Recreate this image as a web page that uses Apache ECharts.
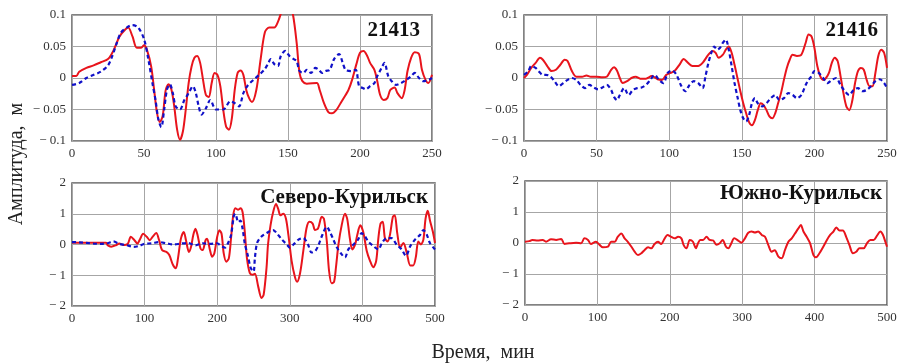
<!DOCTYPE html>
<html>
<head>
<meta charset="utf-8">
<script src="https://cdn.jsdelivr.net/npm/echarts@6/dist/echarts.min.js"></script>
<style>
html, body { margin: 0; padding: 0; background: #fff; }
#main { width: 898px; height: 363px; }
</style>
</head>
<body>
<div id="main"></div>
<script>
// [время, амплитуда]
const red21413 = [[0,0.003],[3,0.003],[5,0.01],[10,0.016],[15,0.02],[20,0.025],[25,0.03],[28,0.04],[30,0.05],[33,0.066],[37,0.077],[39,0.08],[42,0.066],[45,0.048],[48,0.048],[50,0.052],[52,0.045],[55,0.018],[57,-0.018],[59,-0.055],[61,-0.07],[63,-0.06],[65,-0.02],[67,-0.01],[69,-0.018],[71,-0.045],[73,-0.082],[75,-0.098],[77,-0.085],[79,-0.05],[81,-0.008],[83,0.018],[85,0.032],[87,0.035],[89,0.024],[91,-0.003],[93,-0.027],[95,-0.03],[97,-0.008],[99,0.008],[101,0.005],[103,-0.013],[105,-0.05],[107,-0.077],[109,-0.082],[111,-0.064],[113,-0.019],[115,0.008],[117,0.012],[119,0.005],[121,-0.019],[123,-0.032],[125,-0.038],[128,-0.019],[131,0.03],[134,0.073],[137,0.08],[140.5,0.08],[143,0.089],[145,0.102],[147,0.118],[149,0.125],[151,0.118],[153.5,0.1],[156,0.056],[158,0.008],[160,-0.005],[163,-0.009],[170,-0.008],[172,-0.019],[175,-0.04],[178,-0.054],[180.5,-0.056],[183.5,-0.051],[186.5,-0.04],[190,-0.027],[192,-0.019],[194.5,-0.003],[197.5,0.022],[200,0.04],[202.5,0.043],[205,0.035],[207,0.024],[210,0.013],[212,-0.005],[214,-0.027],[216.5,-0.035],[219,-0.032],[221,-0.019],[224,-0.015],[226,-0.024],[229,-0.032],[231,-0.019],[233,0.011],[235.5,0.032],[238,0.041],[241,0.038],[243,0.013],[245.5,-0.003],[247.5,-0.008],[250,0.005]];
const blue21413 = [[0,-0.011],[5,-0.008],[10,0],[15,0.005],[20,0.01],[25,0.02],[28,0.035],[31,0.055],[34,0.072],[38,0.08],[42,0.084],[46,0.08],[50,0.062],[53,0.03],[56,-0.01],[58,-0.035],[60,-0.066],[62,-0.078],[64,-0.05],[66,-0.018],[68,-0.01],[70,-0.024],[72,-0.045],[75,-0.05],[78,-0.035],[81,-0.024],[84,-0.013],[86,-0.024],[88,-0.045],[90,-0.058],[93,-0.048],[96,-0.035],[100,-0.05],[105,-0.05],[110,-0.037],[113,-0.04],[116,-0.045],[119,-0.024],[122,-0.012],[126,-0.003],[130,0.005],[133.5,0.013],[136,0.022],[138,0.03],[140.5,0.022],[143,0.019],[145,0.035],[148,0.043],[151,0.035],[154,0.03],[156,0.027],[158,0.011],[160.7,0.008],[163,0.013],[166,0.008],[169,0.016],[171.4,0.013],[173.7,0.008],[176,0.011],[179,0.013],[182,0.03],[185.5,0.038],[188,0.024],[190,0.013],[193.7,0.011],[197,0.013],[199.4,-0.013],[202,-0.016],[204,-0.018],[207,-0.013],[210,-0.008],[212,0.003],[215,0.016],[217,0.024],[219.6,0.003],[222,-0.005],[225,-0.011],[228.5,-0.008],[232,-0.003],[235.6,0.003],[238,0.008],[241,0],[244,-0.005],[247.5,-0.003],[250,0]];

const red21416 = [[0,0],[2,0.005],[5,0.016],[8,0.024],[11,0.032],[13,0.029],[16,0.019],[19,0.011],[22,0.013],[25,0.021],[28,0.029],[30,0.027],[33,0.011],[36,0.002],[40,0.002],[43,0.004],[46,0.002],[50,0.002],[54,0.001],[57,0.002],[60,0.013],[62,0.017],[64,0.012],[66,0],[68,-0.008],[71,-0.005],[74,0],[77,0.002],[80,-0.001],[84,-0.001],[88,0.003],[92,-0.002],[95,-0.003],[98,0.005],[101,0.008],[104,0.012],[107,0.021],[110,0.03],[113,0.024],[116,0.019],[120,0.019],[123,0.024],[127,0.037],[130,0.043],[132,0.04],[134,0.032],[137,0.037],[139,0.045],[141,0.05],[143,0.04],[145,0.021],[147,0],[149,-0.021],[151,-0.04],[153,-0.056],[155,-0.07],[157,-0.075],[159,-0.067],[161,-0.051],[163,-0.04],[165,-0.043],[167,-0.051],[169,-0.061],[171,-0.064],[173,-0.056],[175,-0.04],[177,-0.024],[179,-0.003],[181,0.016],[183,0.029],[185,0.037],[188,0.035],[191,0.037],[194,0.056],[196,0.069],[198,0.066],[200,0.048],[202,0.019],[204,0.003],[206,-0.003],[208,0],[210,0.008],[212,0.024],[214,0.032],[216,0.027],[218,0.003],[220,-0.024],[222,-0.045],[224,-0.051],[226,-0.037],[228,-0.008],[230,0.011],[232,0.016],[234,0.013],[236,-0.003],[238,-0.013],[240,-0.013],[242,0.008],[244,0.035],[246,0.045],[248,0.04],[250,0.016]];
const blue21416 = [[0,0.005],[3,0.011],[5,0.019],[8,0.016],[10,0.011],[13,0.005],[15,0.005],[18,0.003],[21,-0.005],[24,-0.013],[27,-0.008],[30,-0.003],[33,0],[36,-0.003],[39,-0.011],[42,-0.016],[45,-0.011],[48,-0.015],[51,-0.018],[54,-0.015],[57,-0.011],[60,-0.019],[62,-0.03],[64,-0.035],[66,-0.027],[69,-0.016],[72,-0.027],[75,-0.019],[78,-0.016],[81,-0.015],[84,-0.011],[87,-0.003],[90,0.005],[93,-0.003],[96,-0.008],[99,0.008],[102,0.012],[105,0.005],[108,-0.011],[111,-0.021],[114,-0.011],[117,-0.005],[120,-0.008],[123,-0.016],[125,0.003],[127,0.024],[129,0.04],[131,0.05],[133,0.045],[135,0.048],[137,0.056],[139,0.061],[141,0.045],[143,0.019],[145,-0.008],[147,-0.03],[149,-0.051],[151,-0.064],[153,-0.069],[155,-0.059],[157,-0.04],[159,-0.032],[161,-0.04],[164,-0.045],[167,-0.04],[170,-0.032],[173,-0.027],[176,-0.035],[179,-0.032],[182,-0.024],[185,-0.027],[188,-0.032],[191,-0.027],[194,-0.011],[196,-0.003],[198,0.003],[200,0.011],[203,0.008],[206,0],[209,-0.008],[212,-0.003],[215,0],[218,-0.011],[221,-0.021],[224,-0.027],[227,-0.019],[230,-0.016],[233,-0.021],[236,-0.019],[239,-0.013],[242,-0.005],[245,-0.002],[248,-0.008],[250,-0.016]];

const redSevKur = [[0,0.06],[20,0.06],[47,0.06],[49,-0.02],[54,-0.07],[61,-0.02],[65,0.03],[72,-0.02],[77,0.03],[81,0.25],[86,0.14],[90,0.03],[94,0.19],[98,0.35],[103,0.25],[107,0.14],[111,0.25],[116,0.37],[120,0.14],[124,-0.18],[130,-0.24],[134,-0.34],[139,-0.66],[143,-0.77],[146,-0.45],[150,0.19],[154,0.41],[157,0.14],[161,-0.24],[164,-0.07],[167,0.3],[170,0.51],[173,0.3],[177,-0.13],[180,-0.18],[184,0.14],[186,0.19],[190,-0.18],[193,-0.4],[196,-0.29],[200,0.25],[203,0.46],[206,0.35],[209,-0.29],[212.5,-0.56],[216,-0.45],[219,0.19],[222,0.94],[225,1.18],[228.6,1.13],[232,1.18],[235,1.05],[238,0.41],[241,-0.45],[245,-0.93],[249,-0.98],[252,-0.95],[256.5,-1.37],[261,-1.74],[264,-1.63],[268,-0.74],[270,0],[273.5,0.63],[277,1.05],[281,1.32],[284,1.16],[287,0.95],[291,1.0],[294.7,0.84],[298,0.32],[302.5,-0.53],[307,-1.05],[310,-1.21],[314,-0.95],[318.6,-0.21],[323,0.53],[327,0.74],[331.5,0.68],[334.7,0.47],[339,0.53],[344,0.9],[347,0.84],[351,0.1],[354,-0.84],[357.6,-1.26],[361,-1.21],[363.6,-0.74],[367,0],[371.5,0.63],[376,1.0],[379,0.84],[383,0.16],[386,-0.16],[390,0],[393,0.32],[397,0.63],[401,0.42],[406,-0.21],[410.5,-0.53],[415,-0.74],[419,-0.53],[422,0.21],[425,0.68],[428,0.74],[431,0.21],[434.5,0.1],[438,0.32],[442,0.9],[444.6,0.95],[448,0.37],[452,-0.1],[456.5,0.05],[461,-0.26],[466,-0.68],[470,-0.68],[473.5,-0.42],[477,0.1],[480.5,0],[484,0.16],[487,0.84],[490,1.1],[493,0.79],[497,0.42],[500,0.05]];
const blueSevKur = [[0,0.08],[10,0.07],[20,0.05],[30,0.03],[40,0.02],[50,0.05],[57,0.1],[65,0.02],[75,-0.02],[85,-0.08],[92,-0.05],[100,0.02],[110,0.04],[120,0.08],[130,0.04],[140,0],[150,0.03],[160,0.05],[170,-0.03],[180,0.04],[190,0.02],[200,0.04],[205,-0.04],[211,-0.1],[215,0.05],[219,0.3],[223,0.94],[225,1.0],[229,0.73],[232,0.78],[235,0.51],[238,0.03],[242,-0.34],[246,-0.75],[250,-0.88],[252,-0.42],[255,0.05],[261,0.26],[268,0.37],[277,0.47],[282,0.37],[289,0.16],[296,0],[300,-0.1],[305,0],[312,0.16],[318.6,0.21],[325,0],[330,-0.26],[335,-0.21],[339,-0.05],[344,0.26],[351,0.58],[355,0.42],[360,0.16],[365,-0.1],[371.5,-0.32],[376,-0.42],[380.6,-0.16],[387.6,0],[394,0.16],[399,0.37],[403.6,0.26],[408,0.1],[415,-0.05],[422,-0.16],[427,0.05],[433.5,0.21],[440,0.21],[447,0],[454,-0.16],[460,-0.37],[466,-0.05],[472.6,0.16],[479.6,0.32],[484,0.47],[488.7,0.32],[493,0.05],[500,-0.16]];

const redYuzhKur = [[0,0.04],[6,0.06],[10,0.1],[17.5,0.08],[24.5,0.1],[29,0.04],[36,0.12],[43,0.1],[50,0.13],[54.5,-0.03],[61,-0.01],[70.6,0.01],[77.6,-0.01],[82,0.15],[87,0.1],[91,-0.03],[98,0.04],[103,-0.06],[107.6,-0.14],[114.5,-0.12],[119,0.04],[124,0.04],[128,0.2],[133,0.31],[137.6,0.15],[142,0.04],[147,-0.12],[151.4,-0.28],[156,-0.39],[160.7,-0.33],[165,-0.23],[170,-0.14],[174.5,-0.17],[179,-0.03],[183.7,0.04],[188,-0.03],[193,0.15],[196.7,0.26],[202,0.2],[206.8,0.15],[211.4,0.2],[216,0.15],[219,-0.06],[223,-0.17],[227.6,0.1],[232,0.04],[236,-0.17],[239,-0.01],[242,0.1],[246,0.1],[250.7,0.2],[255,0.1],[260,0.08],[264.5,-0.06],[269,-0.01],[273,0.1],[277.6,-0.12],[281,-0.17],[285,-0.01],[289,0.15],[294.5,0.08],[299,0.01],[303.8,0.15],[308.4,0.33],[313,0.37],[317.6,0.34],[322,0.37],[327,0.26],[331.5,0.2],[336,-0.06],[340.7,-0.28],[345,-0.23],[350,-0.44],[354.6,-0.49],[359,-0.23],[363.8,0.04],[368.4,0.15],[373,0.31],[377.6,0.47],[381,0.58],[384.6,0.37],[389,0.2],[393.8,-0.01],[398.4,-0.39],[402,-0.46],[406.7,-0.33],[412,-0.12],[417,0.1],[421.5,0.26],[426,0.37],[430,0.5],[434.4,0.4],[439,0.4],[443.6,0.2],[448,-0.06],[452.9,-0.33],[457.5,-0.28],[462,-0.17],[467.7,-0.17],[472.3,-0.01],[477,0.1],[481.5,0.1],[486,0.23],[490.8,0.37],[494.5,0.26],[497.7,0.04],[500,-0.12]];

const panelNames = ['21413', '21416', 'Северо-Курильск', 'Южно-Курильск'];
const xMax = [250, 250, 500, 500];
const xStep = [50, 50, 100, 100];
const yMax = [0.1, 0.1, 2, 2];
const yStep = [0.05, 0.05, 1, 1];

const serif = '"Liberation Serif", "Times New Roman", serif';
const redColor = '#e8141c';
const blueColor = '#1010c8';

const grids = [
  { left: 72, top: 15, width: 360, height: 126 },
  { left: 524, top: 15, width: 363, height: 126 },
  { left: 72, top: 183, width: 363, height: 123 },
  { left: 525, top: 181, width: 362, height: 124 }
];

function yFmt(v) {
  const r = Math.round(v * 1000) / 1000;
  if (r === 0) return '0';
  return r < 0 ? '\u2212 ' + String(-r) : String(r);
}

const chart = echarts.init(document.getElementById('main'));

const option = {
  animation: false,
  backgroundColor: '#fff',
  grid: grids.map(g => Object.assign({
    show: true,
    borderColor: '#5a5a5a',
    borderWidth: 1.5,
    outerBoundsMode: 'none'
  }, g)),
  title: [
    { text: panelNames[0], right: 478, top: 20 },
    { text: panelNames[1], right: 20, top: 20 },
    { text: panelNames[2], right: 470, top: 187 },
    { text: panelNames[3], right: 16, top: 183 }
  ].map(t => Object.assign(t, {
    padding: 0,
    textStyle: { fontFamily: serif, fontWeight: 'bold', fontSize: 21, color: '#111' }
  })),
  xAxis: grids.map((g, i) => ({
    type: 'value',
    gridIndex: i,
    min: 0,
    max: xMax[i],
    interval: xStep[i],
    axisLine: { show: false },
    axisTick: { show: false },
    axisLabel: { fontFamily: serif, fontSize: 13, color: '#333', margin: 6 },
    splitLine: { lineStyle: { color: '#a6a6a6', width: 1 } }
  })),
  yAxis: grids.map((g, i) => ({
    type: 'value',
    gridIndex: i,
    min: -yMax[i],
    max: yMax[i],
    interval: yStep[i],
    axisLine: { show: false },
    axisTick: { show: false },
    axisLabel: { fontFamily: serif, fontSize: 13, color: '#333', margin: 6, formatter: yFmt },
    splitLine: { lineStyle: { color: '#a6a6a6', width: 1 } }
  })),
  series: [
    [redSevKur, 2, 'red'], [blueSevKur, 2, 'blue'],
    [red21413, 0, 'red'], [blue21413, 0, 'blue'],
    [red21416, 1, 'red'], [blue21416, 1, 'blue'],
    [redYuzhKur, 3, 'red']
  ].map(([data, idx, kind]) => ({
    type: 'line',
    xAxisIndex: idx,
    yAxisIndex: idx,
    data: data,
    showSymbol: false,
    smooth: 0.3,
    clip: true,
    lineStyle: kind === 'red'
      ? { color: redColor, width: 2 }
      : { color: blueColor, width: 2.2, type: [4, 3] }
  })),
  graphic: [
    {
      type: 'text',
      x: 17, y: 164,
      rotation: Math.PI / 2,
      style: {
        text: 'Амплитуда,  м',
        font: '20px ' + serif,
        fill: '#222',
        align: 'center',
        verticalAlign: 'middle'
      }
    },
    {
      type: 'text',
      x: 483, y: 353,
      style: {
        text: 'Время,  мин',
        font: '20px ' + serif,
        fill: '#222',
        align: 'center',
        verticalAlign: 'middle'
      }
    }
  ]
};

chart.setOption(option);
</script>
</body>
</html>
